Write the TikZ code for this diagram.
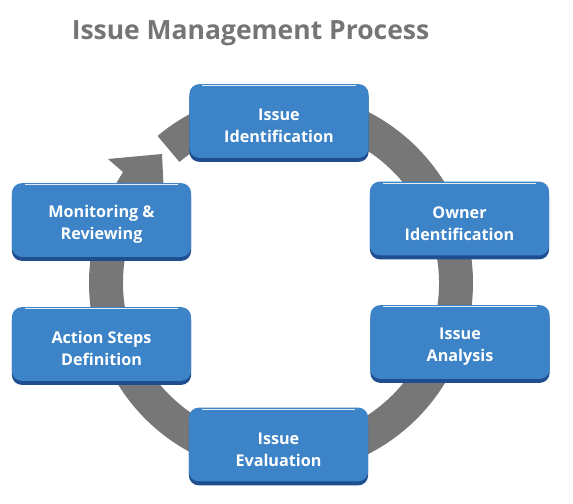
\documentclass[tikz,border=0pt]{standalone}
\usepackage{fontspec}
\setmainfont{Open Sans}
\usetikzlibrary{shadows}
\definecolor{boxblue}{RGB}{60,131,199}
\definecolor{boxedge}{RGB}{30,78,143}
\definecolor{ringgray}{RGB}{119,119,119}
\definecolor{titlegray}{RGB}{117,117,117}
\tikzstyle{stepbox} = [rectangle, rounded corners=8.5pt, fill=boxblue, text=white,
    align=center, font=\bfseries\fontsize{13.8}{18.7}\selectfont,
    minimum width=153pt, minimum height=63pt, inner sep=0pt,
    execute at begin node={\rule{0pt}{37pt}},
    drop shadow={shadow xshift=0pt, shadow yshift=-3.4pt, fill=boxedge, opacity=1}]
\tikzstyle{hiline} = [draw=white, line width=0.8pt, opacity=0.85]
\tikzstyle{ring} = [fill=ringgray]

\begin{document}
\begin{tikzpicture}[x=0.03cm,y=-0.03cm]
    \useasboundingbox (0,0) rectangle (573,503);
    % Draw the ring
    \fill[ring, shift={(281,283)}] (230:192) arc[start angle=230, end angle=570, radius=192]
        -- (570:158) arc[start angle=570, end angle=230, radius=158] -- cycle;
    \fill[ring] (112,196) -- (117,182) -- (123,172) -- (108,159) -- (162,154) -- (164,196) -- cycle;

    % Place nodes
    \node[font=\bfseries\fontsize{22.6}{27}\selectfont, text=titlegray, anchor=base] (title) at (250.5,39) {Issue Management Process};
    \node [stepbox] (ident) at (279,121) {Issue\\Identification};
    \node [stepbox] (owner) at (459.5,218.5) {Owner\\Identification};
    \node [stepbox] (analysis) at (460,342) {Issue\\Analysis};
    \node [stepbox] (evalu) at (278.5,444.5) {Issue\\Evaluation};
    \node [stepbox] (action) at (101.5,344) {Action Steps\\Definition};
    \node [stepbox] (monitor) at (101.5,220) {Monitoring \&\\Reviewing};

    % Highlights
    \foreach \n in {ident,owner,analysis,evalu,action,monitor}
        \draw[hiline] ([xshift=11pt,yshift=-1.7pt]\n.north west) -- ([xshift=-11pt,yshift=-1.7pt]\n.north east);
\end{tikzpicture}
\end{document}
